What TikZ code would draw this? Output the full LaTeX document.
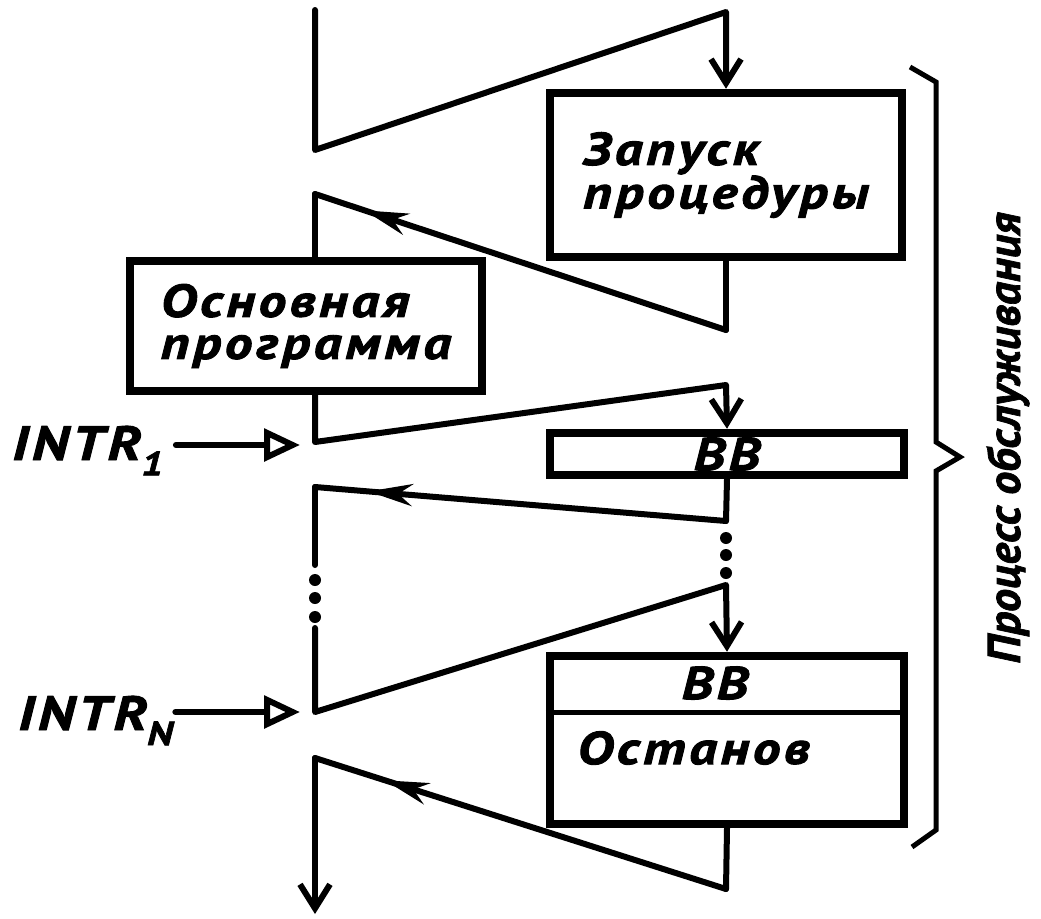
\documentclass[tikz,border=0pt]{standalone}
\usepackage{fontspec}
\setmainfont{PT Sans}
\newfontfamily\dfont[FakeStretch=1.2, LetterSpace=8, FakeBold=2]{PT Sans}
\newfontfamily\rfont[FakeBold=1.5]{PT Sans}
\usetikzlibrary{arrows.meta,decorations.markings}
\tikzset{
  flow/.style={line width=6pt, line cap=round, line join=round},
  blk/.style={draw, line width=8.5pt, minimum width=352pt, inner sep=0pt},
  btxt/.style={font=\dfont\bfseries\itshape\fontsize{46}{42}\selectfont},
  itxt/.style={font=\dfont\bfseries\itshape\fontsize{48}{48}\selectfont, inner sep=0pt},
  downarr/.style={-{Straight Barb[length=24pt,width=30pt]}},
  inarr/.style={-{Triangle[open,length=36pt,width=32pt]}},
  midarr/.style={postaction={decorate}, decoration={markings,
      mark=at position #1 with {\arrow{Stealth[length=44pt,width=22pt]}}}},
  dotc/.style={fill=black, circle, inner sep=0pt, minimum size=12pt}
}
\begin{document}
\begin{tikzpicture}[x=1pt,y=-1pt]
\useasboundingbox (0,0) rectangle (1041,918);
% boxes
\node[blk, minimum height=164pt, btxt, align=left] (b1) at (726,175) {Запуск\\процедуры};
\node[blk, minimum height=130pt, btxt, align=left] (b2) at (306,326) {Основная\\программа};
\node[blk, minimum width=354pt, minimum height=42pt, btxt] (b3) at (727,454) {ВВ};
\node[blk, minimum width=354pt, minimum height=168pt] (b4) at (727,740) {};
\draw[line width=5pt] (b4.west |- {(0,712)}) -- (b4.east |- {(0,712)});
\node[btxt] (b4a) at (715,683) {ВВ};
\node[btxt, anchor=west] (b4b) at (574,748) {Останов};
% coordinates
\coordinate (c1) at (315,10);
\coordinate (c2) at (315,150);
\coordinate (c3) at (726,12);
\coordinate (c4) at (726,330);
\coordinate (c5) at (315,194);
\coordinate (c6) at (315,442);
\coordinate (c7) at (726,385);
\coordinate (c8) at (726,521);
\coordinate (c9) at (315,487);
\coordinate (d1) at (315,565);
\coordinate (d2) at (315,628);
\coordinate (c10) at (315,712);
\coordinate (c11) at (726,585);
\coordinate (c12) at (726,889);
\coordinate (c13) at (315,758);
\coordinate (c14) at (315,914);
\coordinate (t1) at (300,445);
\coordinate (tn) at (300,712);
% flow
\draw[flow, downarr] (c1) -- (c2) -- (c3) -- (b1.north);
\draw[flow] (b1.south) -- (c4);
\draw[flow, midarr=0.88] (c4) -- (c5);
\draw[flow] (c5) -- (c5 |- b2.north);
\draw[flow, downarr] (c5 |- b2.south) -- (c6) -- (c7) -- (b3.north);
\draw[flow] (b3.south) -- (c8);
\draw[flow, midarr=0.87] (c8) -- (c9);
\draw[flow] (c9) -- (d1);
\draw[flow, downarr] (d2) -- (c10) -- (c11) -- (b4.north);
\draw[flow] (b4.south) -- (c12);
\draw[flow, midarr=0.83] (c12) -- (c13);
\draw[flow, downarr] (c13) -- (c14);
% dots
\foreach \y/\n in {580/l1,598/l2,617/l3} \node[dotc] (\n) at (315,\y) {};
\foreach \y/\n in {538/r1,555/r2,573/r3} \node[dotc] (\n) at (726,\y) {};
% interrupts
\node[anchor=base west, itxt] (i1) at (12,460) {INTR\textsubscript{1}};
\draw[flow, inarr] ([xshift=12pt]i1.east |- t1) -- (t1);
\node[anchor=base west, itxt] (iN) at (18,730) {INTR\textsubscript{N}};
\draw[flow, inarr] ([xshift=2pt]iN.east |- tn) -- (tn);
% brace
\draw[line width=5pt, line join=miter] (910,67) coordinate (br1) -- (936,82) -- (936,442) -- (960,457) coordinate (brt) -- (936,471) -- (936,830) -- (912,847) coordinate (br2);
\node[rotate=90, font=\rfont\bfseries\itshape\fontsize{46}{46}\selectfont] (lbl) at (1008,438) {Процесс обслуживания};
\end{tikzpicture}
\end{document}
